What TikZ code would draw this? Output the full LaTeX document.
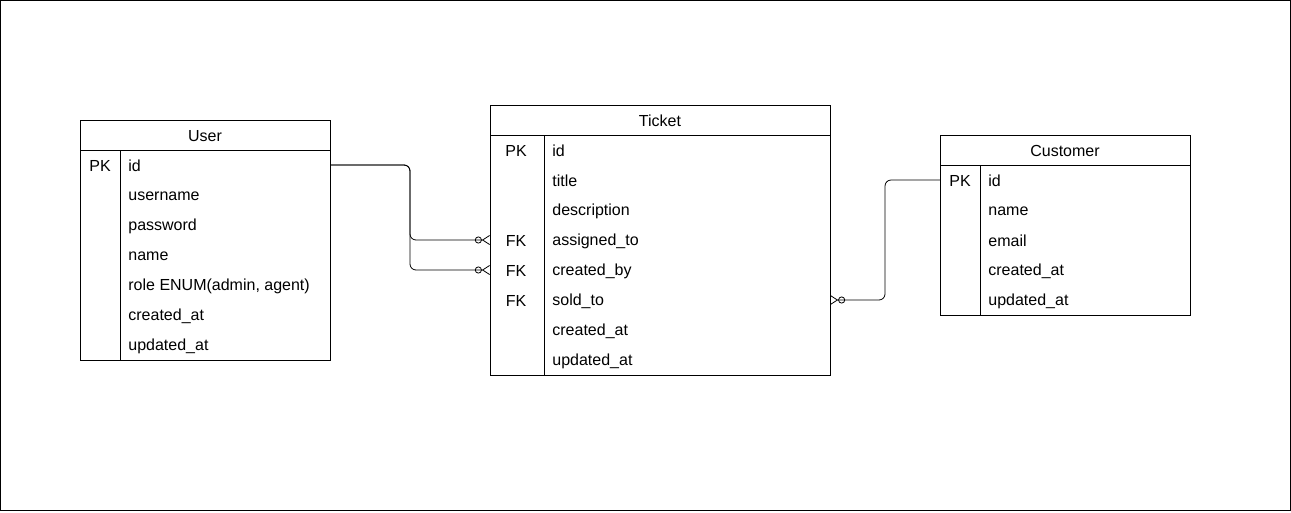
\documentclass[tikz,border=0pt]{standalone}
\usepackage{fontspec}
\setmainfont{Liberation Sans}
\usetikzlibrary{arrows.meta}
\begin{document}
\begin{tikzpicture}[x=1pt,y=-1pt,line width=0.8pt,
  txt/.style={font=\fontsize{16}{19}\selectfont,inner sep=0pt},
  field/.style={txt,anchor=west},
  rel/.style={rounded corners=6pt,
    -{Circle[open,length=7pt,line width=0.8pt]Straight Barb[reversed,length=7pt,width=9pt,line width=0.8pt]}}]
\useasboundingbox (0,0) rectangle (1291,512);
\draw (0.5,0.5) rectangle (1290.5,510.5);

% User table
\draw (80,120) rectangle (330,360);
\draw (80,150) -- (330,150);
\draw (120,150) -- (120,360);
\node[txt] (user) at (205,136) {User};
\node[txt] (u-pk) at (100,166) {PK};
\foreach \f/\n [count=\i] in {id/id,username/username,password/password,name/name,
    {role ENUM(admin, agent)}/role,created\_at/created,updated\_at/updated}
  \node[field] (u-\n) at (128,136+30*\i) {\f};
\coordinate (u-id-e) at (330,165);

% Ticket table
\draw (490,105) rectangle (830,375);
\draw (490,135) -- (830,135);
\draw (544,135) -- (544,375);
\node[txt] (ticket) at (660,121) {Ticket};
\node[txt] (t-pk) at (516,151) {PK};
\node[txt] at (516,241) {FK};
\node[txt] at (516,271) {FK};
\node[txt] at (516,301) {FK};
\foreach \f/\n [count=\i] in {id/id,title/title,description/desc,assigned\_to/assigned,
    created\_by/createdby,sold\_to/sold,created\_at/created,updated\_at/updated}
  \node[field] (t-\n) at (552,121+30*\i) {\f};
\coordinate (t-assigned-w) at (490,240);
\coordinate (t-createdby-w) at (490,270);
\coordinate (t-sold-e) at (830,300);

% Customer table
\draw (940,135) rectangle (1190,315);
\draw (940,165) -- (1190,165);
\draw (980,165) -- (980,315);
\node[txt] (customer) at (1065,151) {Customer};
\node[txt] (c-pk) at (960,181) {PK};
\foreach \f/\n [count=\i] in {id/id,name/name,email/email,created\_at/created,updated\_at/updated}
  \node[field] (c-\n) at (988,151+30*\i) {\f};
\coordinate (c-id-w) at (940,180);

% relations
\draw[rel] (u-id-e) -- ++(80,0) |- (t-assigned-w);
\draw[rel] (u-id-e) -- ++(80,0) |- (t-createdby-w);
\draw[rel] (c-id-w) -- ++(-55,0) |- (t-sold-e);
\end{tikzpicture}
\end{document}
